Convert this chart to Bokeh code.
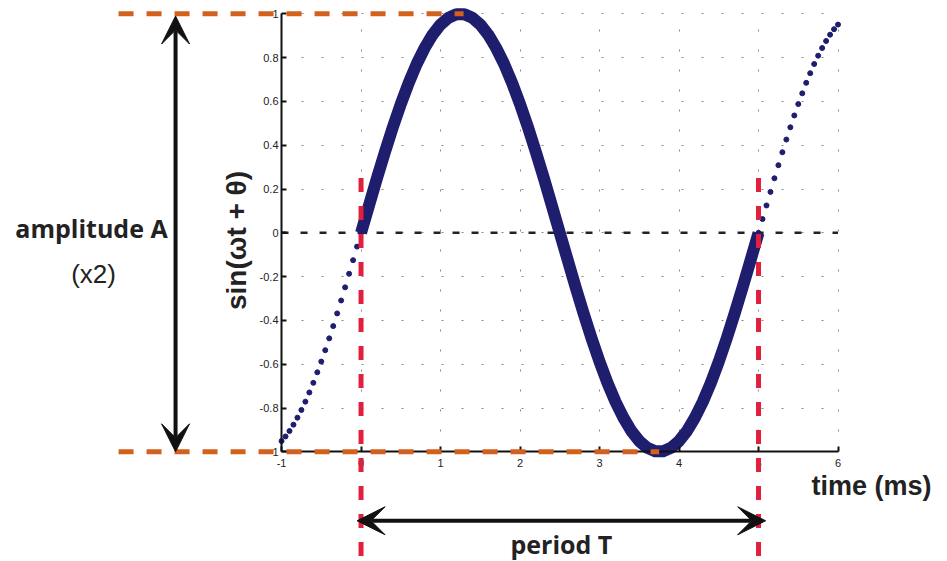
import math
import numpy as np
from bokeh.plotting import figure
from bokeh.models import Range1d, FixedTicker, Arrow, VeeHead, Label
from bokeh.embed import file_html
from bokeh.resources import INLINE

# ---- data ----
x_ticks = [-1, 0, 1, 2, 3, 4, 5, 6]
x_tick_labels = ["-1", "0", "1", "2", "3", "4", "5", "6"]
y_ticks = [-1, -0.8, -0.6, -0.4, -0.2, 0, 0.2, 0.4, 0.6, 0.8, 1]
y_tick_labels = ["-1", "-0.8", "-0.6", "-0.4", "-0.2", "0", "0.2", "0.4", "0.6", "0.8", "1"]

# one period, solid (t = 0 .. 5 ms, every 0.1 ms)
solid_t = np.round(np.arange(0, 51) * 0.1, 2)
solid_y = [0.000, 0.125, 0.249, 0.368, 0.482, 0.588, 0.685, 0.771, 0.844, 0.905,
           0.951, 0.982, 0.998, 0.998, 0.982, 0.951, 0.905, 0.844, 0.771, 0.685,
           0.588, 0.482, 0.368, 0.249, 0.125, 0.000, -0.125, -0.249, -0.368, -0.482,
           -0.588, -0.685, -0.771, -0.844, -0.905, -0.951, -0.982, -0.998, -0.998, -0.982,
           -0.951, -0.905, -0.844, -0.771, -0.685, -0.588, -0.482, -0.368, -0.249, -0.125, 0.000]

# dotted continuation before (t = -1 .. 0) and after (t = 5 .. 6), every 0.05 ms
dot_left_t = np.round(-1 + np.arange(0, 21) * 0.05, 2)
dot_left_y = [-0.951, -0.930, -0.905, -0.876, -0.844, -0.809, -0.771, -0.729, -0.685, -0.637,
              -0.588, -0.536, -0.482, -0.426, -0.368, -0.309, -0.249, -0.187, -0.125, -0.063, 0.000]
dot_right_t = np.round(5 + np.arange(0, 21) * 0.05, 2)
dot_right_y = [0.000, 0.063, 0.125, 0.187, 0.249, 0.309, 0.368, 0.426, 0.482, 0.536,
               0.588, 0.637, 0.685, 0.729, 0.771, 0.809, 0.844, 0.876, 0.905, 0.930, 0.951]

amp_max = 1
amp_min = -1
peak_t = 1.25
trough_t = 3.75
period_start = 0
period_end = 5

NAVY = "#1f1d6e"
ORANGE = "#d2601f"
RED = "#e0203c"
INK = "#111111"
TEXT = "#222222"

# the frame covers the whole canvas so the annotations around the axes box are drawn;
# the axes are placed at fixed data locations and bounded to the data box
p = figure(width=947, height=561, x_range=Range1d(-4.535, 7.377), y_range=Range1d(-1.501, 1.061),
           output_backend="svg", toolbar_location=None, min_border=0)
p.outline_line_color = None
p.background_fill_color = "white"
p.border_fill_color = "white"

for ax, ticks, labels in ((p.xaxis[0], x_ticks, x_tick_labels), (p.yaxis[0], y_ticks, y_tick_labels)):
    ax.ticker = FixedTicker(ticks=ticks)
    ax.major_label_overrides = {t: l for t, l in zip(ticks, labels)}
    ax.major_tick_in = 5
    ax.major_tick_out = 0
    ax.minor_tick_line_color = None
    ax.axis_line_width = 2
    ax.axis_line_color = INK
    ax.major_tick_line_width = 2
    ax.major_tick_line_color = INK
    ax.major_label_text_font = "Liberation Sans"
    ax.major_label_text_font_size = "11px"
    ax.major_label_text_color = TEXT
p.xaxis.fixed_location = y_ticks[0]
p.xaxis.bounds = (x_ticks[0], x_ticks[-1])
p.yaxis.fixed_location = x_ticks[0]
p.yaxis.bounds = (y_ticks[0], y_ticks[-1])
p.xaxis.major_label_standoff = 7
p.yaxis.major_label_standoff = 3

for g in (p.xgrid[0], p.ygrid[0]):
    g.grid_line_color = "#888888"
    g.grid_line_dash = "2 18"
    g.grid_line_width = 1
p.xgrid.ticker = FixedTicker(ticks=x_ticks)
p.ygrid.ticker = FixedTicker(ticks=y_ticks)
p.xgrid.bounds = (x_ticks[0], x_ticks[-1])
p.xgrid.cross_bounds = (y_ticks[0], y_ticks[-1])
p.ygrid.bounds = (y_ticks[0], y_ticks[-1])
p.ygrid.cross_bounds = (x_ticks[0], x_ticks[-1])

# zero line
p.add_layout(Arrow(x_start=x_ticks[0], y_start=0, x_end=x_ticks[-1], y_end=0, start=None, end=None,
                   line_color="#222222", line_width=2.5, line_dash="7 12", level="underlay"))

# sine curve
p.line(solid_t, solid_y, line_color=NAVY, line_width=12, line_join="round")
p.scatter(dot_left_t, dot_left_y, size=5, color=NAVY)
p.scatter(dot_right_t, dot_right_y, size=5, color=NAVY)

# orange amplitude guides
p.add_layout(Arrow(x_start=-3.05, y_start=amp_max, x_end=peak_t + 0.04, y_end=amp_max,
                   start=None, end=None, line_color=ORANGE, line_width=5, line_dash="15 13"))
p.add_layout(Arrow(x_start=-3.05, y_start=amp_min, x_end=trough_t, y_end=amp_min,
                   start=None, end=None, line_color=ORANGE, line_width=5, line_dash="15 13"))

# red period guides
for xp in (period_start, period_end):
    p.add_layout(Arrow(x_start=xp, y_start=0.25, x_end=xp, y_end=-1.48,
                       start=None, end=None, line_color=RED, line_width=5, line_dash="14 14"))

# amplitude double arrow
p.add_layout(Arrow(x_start=-2.333, y_start=amp_min, x_end=-2.333, y_end=0.99,
                   line_color=INK, line_width=4,
                   start=VeeHead(size=28, fill_color=INK, line_color=INK, line_width=1),
                   end=VeeHead(size=28, fill_color=INK, line_color=INK, line_width=1)))
# period double arrow
p.add_layout(Arrow(x_start=-0.05, y_start=-1.315, x_end=5.09, y_end=-1.315,
                   line_color=INK, line_width=4,
                   start=VeeHead(size=28, fill_color=INK, line_color=INK, line_width=1),
                   end=VeeHead(size=28, fill_color=INK, line_color=INK, line_width=1)))

# texts
p.add_layout(Label(x=-3.39, y=0.02, text="amplitude A", text_font="Open Sans",
                   text_font_style="bold", text_font_size="25px", text_color=TEXT,
                   text_align="center", text_baseline="middle"))
p.add_layout(Label(x=-3.365, y=-0.186, text="(x2)", text_font="Liberation Sans",
                   text_font_size="26px", text_color=TEXT,
                   text_align="center", text_baseline="middle"))
p.add_layout(Label(x=-1.566, y=-0.035, text="sin(ωt + θ)", text_font="Liberation Sans",
                   text_font_style="bold", text_font_size="28px", text_color=TEXT,
                   text_align="center", text_baseline="middle", angle=math.pi / 2))
p.add_layout(Label(x=6.42, y=-1.155, text="time (ms)", text_font="Liberation Sans",
                   text_font_style="bold", text_font_size="27px", text_color=TEXT,
                   text_align="center", text_baseline="middle"))
p.add_layout(Label(x=2.52, y=-1.419, text="period T", text_font="Open Sans",
                   text_font_style="bold", text_font_size="25px", text_color=TEXT,
                   text_align="center", text_baseline="middle"))

open("out.html", "w").write(file_html(p, INLINE))
